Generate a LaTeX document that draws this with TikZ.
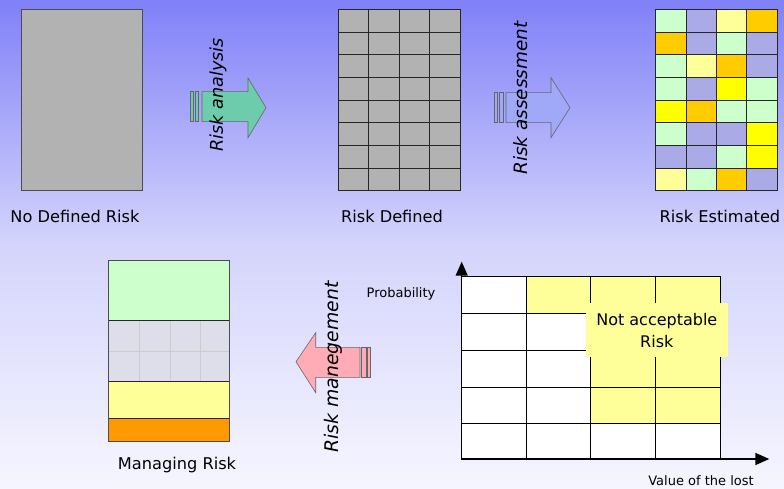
\documentclass[tikz,border=0pt]{standalone}
\usepackage{fontspec}
\setmainfont{DejaVu Sans}
\usetikzlibrary{arrows.meta}
\definecolor{bgtop}{RGB}{128,128,248}
\definecolor{bgmid}{RGB}{212,212,252}
\definecolor{bgbot}{RGB}{246,246,255}
\definecolor{boxgray}{RGB}{178,178,178}
\definecolor{riskG}{RGB}{204,255,204}
\definecolor{riskL}{RGB}{170,170,230}
\definecolor{riskY}{RGB}{255,255,153}
\definecolor{riskO}{RGB}{255,204,0}
\definecolor{riskV}{RGB}{255,255,0}
\definecolor{mgOrange}{RGB}{255,153,0}
\definecolor{mgGray}{RGB}{222,222,234}
\definecolor{arrGreen}{RGB}{108,204,172}
\definecolor{arrBlue}{RGB}{160,168,248}
\definecolor{arrPink}{RGB}{255,172,182}
\tikzset{
  cellline/.style={draw=black!85, line width=1pt},
  boxline/.style={draw=black!70, line width=1pt},
  lbl/.style={inner sep=0pt, font=\fontsize{16.2}{19}\selectfont},
  small/.style={inner sep=0pt, font=\fontsize{13}{15}\selectfont},
  rotlbl/.style={inner sep=0pt, rotate=90},
  blockarrow/.style={draw=black!60, line width=0.6pt},
  axis/.style={line width=1.5pt, -{Triangle[length=14pt,width=12pt]}},
}
\begin{document}
\begin{tikzpicture}[x=1pt,y=-1pt]
\useasboundingbox (0,0) rectangle (784,489);
\shade[top color=bgtop, bottom color=bgbot, middle color=bgmid] (0,0) rectangle (784,489);

% --- No Defined Risk
\draw[boxline, fill=boxgray] (21,9.3) rectangle (142,191);
\node[lbl] (l1) at (75,216) {No Defined Risk};

% --- Risk Defined
\foreach \i in {0,...,3}
  \foreach \j in {0,...,7}
    \draw[cellline, fill=boxgray] ({338+30.5*\i},{9.3+22.71*\j}) rectangle +(30.5,22.71);
\node[lbl] (l2) at (392,216) {Risk Defined};

% --- Risk Estimated
\foreach \row [count=\j from 0] in {{G,L,Y,O},{O,L,G,L},{G,Y,O,L},{G,L,V,G},{V,O,G,G},{G,L,L,V},{L,L,G,V},{Y,G,O,L}}
  \foreach \c [count=\i from 0] in \row
    \draw[cellline, fill=risk\c] ({655.7+30.33*\i},{9.3+22.71*\j}) rectangle +(30.33,22.71);
\node[lbl] (l3) at (720,216) {Risk Estimated};

% --- arrow 1: Risk analysis
\draw[blockarrow, fill=arrGreen] (190,91.7) rectangle (193.3,121.7);
\draw[blockarrow, fill=arrGreen] (195,91.7) rectangle (198.7,121.7);
\draw[blockarrow, fill=arrGreen] (202,91.7) -- (248,91.7) -- (248,78) -- (266,107.7) -- (248,137.7) -- (248,121.7) -- (202,121.7) -- cycle;
\node[rotlbl, font=\fontsize{17.6}{20}\selectfont\itshape] (t1) at (218,95) {Risk analysis};

% --- arrow 2: Risk assessment
\draw[blockarrow, fill=arrBlue] (494,92.7) rectangle (497.3,122.7);
\draw[blockarrow, fill=arrBlue] (499,92.7) rectangle (503.3,122.7);
\draw[blockarrow, fill=arrBlue] (506,92.7) -- (551,92.7) -- (551,77.7) -- (570,107.7) -- (551,137.7) -- (551,122.7) -- (506,122.7) -- cycle;
\node[rotlbl, font=\fontsize{18.4}{21}\selectfont\itshape] (t2) at (521,98) {Risk assessment};

% --- arrow 3: Risk manegement
\draw[blockarrow, fill=arrPink] (361.7,347.3) rectangle (366,377.3);
\draw[blockarrow, fill=arrPink] (367.3,347.3) rectangle (370.7,377.3);
\draw[blockarrow, fill=arrPink] (360,347.3) -- (315.7,347.3) -- (315.7,332.7) -- (296,361.7) -- (315.7,392.7) -- (315.7,377.3) -- (360,377.3) -- cycle;
\node[rotlbl, font=\fontsize{18.8}{21}\selectfont\itshape] (t3) at (333,367) {Risk manegement};

% --- Managing Risk
\fill[mgGray] (108.7,320.3) rectangle (229.7,381);
\foreach \x in {139,170,200.7} \draw[black!20, line width=0.6pt] (\x,320.3) -- (\x,381);
\draw[black!20, line width=0.6pt] (108.7,351) -- (229.7,351);
\draw[cellline, fill=riskG] (108.7,260.3) rectangle (229.7,320.3);
\draw[cellline, fill=riskY] (108.7,381) rectangle (229.7,418.7);
\draw[cellline, fill=mgOrange] (108.7,418.7) rectangle (229.7,441.3);
\draw[boxline] (108.7,260.3) rectangle (229.7,441.3);
\node[lbl] (l4) at (177,465) {Managing Risk};

% --- chart
\fill[white] (461.7,276.7) rectangle (720,459);
\fill[riskY] (526,276.7) rectangle (720,313.3);
\fill[riskY] (590,313.3) rectangle (720,423.3);
\foreach \xa/\xb in {461.7/526,526/590,590/655,655/720}
  \foreach \ya/\yb in {276.7/313.3,313.3/350,350/387.3,387.3/423.3,423.3/459}
    \draw[black, line width=0.9pt] (\xa,\ya) rectangle (\xb,\yb);
\node[fill=riskY, minimum width=141.7pt, minimum height=54pt, inner sep=0pt, align=center,
      font=\fontsize{16}{21.6}\selectfont] (na) at (656.8,330.3) {Not acceptable\\Risk};
\coordinate (o) at (461.7,459);
\coordinate (ytip) at (461.7,261.7);
\coordinate (xtip) at (769.3,459);
\draw[axis] (o) -- (ytip);
\draw[axis] (o) -- (xtip);
\node[small] (py) at (401,294) {Probability};
\node[small] (vx) at (701,481) {Value of the lost};
\end{tikzpicture}
\end{document}
